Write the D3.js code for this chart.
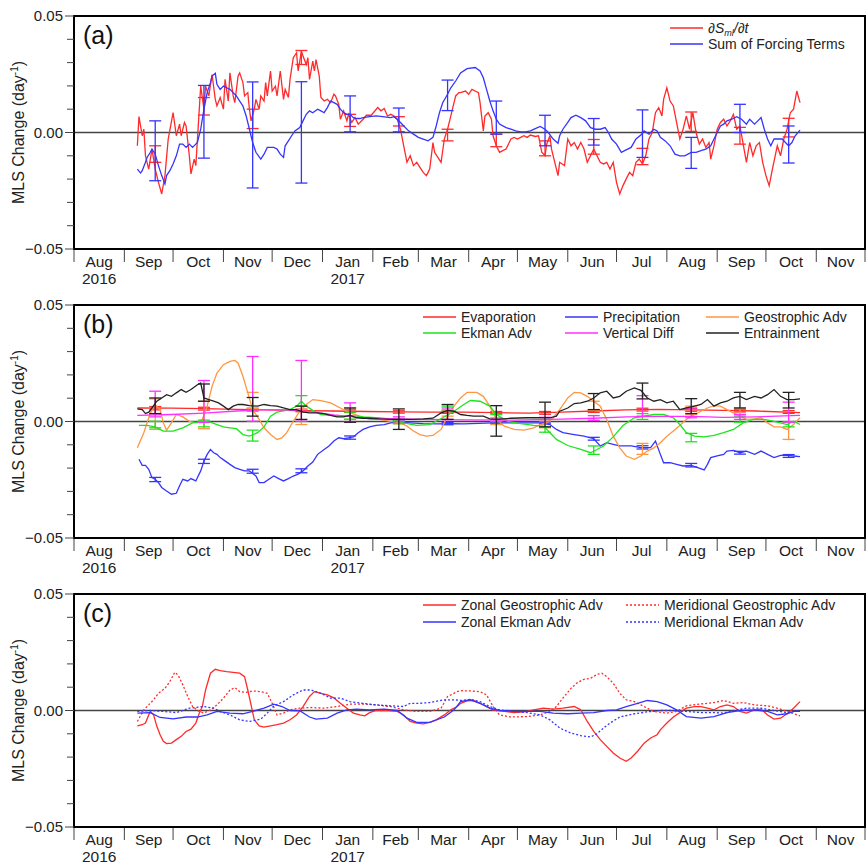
<!DOCTYPE html>
<html>
<head>
<meta charset="utf-8">
<script src="https://cdn.jsdelivr.net/npm/d3@7"></script>
<style>
  body { margin: 0; background: #fff; }
  text { font-family: "Liberation Sans", Arial, sans-serif; }
</style>
</head>
<body>
<svg id="fig" width="866" height="863"></svg>
<script>
// x values are days since 1 Aug 2016, y values are MLS change in day^-1
const day0 = new Date(2016, 7, 1);

// ---- panel (a)
const dSdt = [
  [39,-0.0057],[40,0.0068],[42,-0.0014],[43,0.0014],[44,-0.0100],[46,-0.0157],[48,-0.0071],[50,-0.0157],
  [52,-0.0214],[54,-0.0264],[56,-0.0185],[58,-0.0028],[61,0.0085],[63,-0.0014],[65,0.0036],[66,-0.0014],
  [68,0.0043],[69,0.0028],[71,-0.0100],[72,-0.0178],[74,-0.0114],[75,-0.0142],[77,0.0085],[78,0.0199],
  [80,0.0100],[81,0.0199],[83,0.0157],[85,0.0249],[87,0.0142],[88,0.0114],[90,0.0150],[92,0.0100],
  [93,0.0228],[95,0.0135],[96,0.0256],[98,0.0157],[99,0.0128],[101,0.0242],[102,0.0256],[104,0.0214],
  [105,0.0157],[107,0.0171],[108,0.0100],[109,0.0050],[111,0.0100],[112,0.0142],[114,0.0100],[115,0.0157],
  [117,0.0135],[118,0.0214],[119,0.0157],[121,0.0264],[122,0.0178],[124,0.0199],[125,0.0157],[127,0.0264],
  [129,0.0142],[130,0.0185],[132,0.0150],[133,0.0228],[135,0.0321],[137,0.0342],[138,0.0264],[140,0.0349],
  [141,0.0328],[143,0.0292],[144,0.0321],[145,0.0228],[147,0.0306],[148,0.0264],[149,0.0313],[151,0.0242],
  [152,0.0150],[154,0.0135],[156,0.0142],[158,0.0128],[160,0.0164],[161,0.0157],[163,0.0121],[164,0.0057],
  [166,0.0093],[168,0.0050],[169,0.0078],[171,0.0043],[173,0.0064],[175,0.0036],[178,0.0057],[180,0.0074],
  [183,0.0074],[187,0.0107],[189,0.0093],[191,0.0103],[193,0.0071],[195,0.0078],[197,0.0071],[199,0.0057],
  [201,0.0014],[203,-0.0057],[205,-0.0128],[207,-0.0100],[209,-0.0142],[211,-0.0128],[213,-0.0150],[215,-0.0171],
  [217,-0.0185],[219,-0.0157],[221,-0.0043],[222,-0.0085],[226,-0.0128],[228,-0.0028],[230,0.0014],[232,0.0071],
  [235,0.0157],[237,0.0171],[238,0.0171],[241,0.0178],[243,0.0164],[245,0.0185],[247,0.0178],[249,0.0171],
  [250,0.0128],[252,0.0007],[253,0.0071],[255,0.0085],[257,0.0057],[258,-0.0014],[260,-0.0057],[262,-0.0085],
  [264,-0.0078],[266,-0.0071],[269,-0.0028],[271,-0.0021],[273,-0.0028],[275,-0.0021],[277,-0.0014],[279,-0.0021],
  [281,-0.0011],[284,-0.0017],[286,-0.0014],[288,-0.0085],[290,-0.0100],[291,-0.0050],[293,-0.0014],[294,-0.0071],
  [296,-0.0128],[298,-0.0185],[299,-0.0128],[302,-0.0142],[304,-0.0028],[306,-0.0057],[308,-0.0043],[310,-0.0071],
  [312,-0.0043],[314,-0.0071],[316,-0.0128],[318,-0.0100],[320,-0.0071],[322,-0.0100],[324,-0.0128],[326,-0.0135],
  [328,-0.0128],[330,-0.0157],[332,-0.0128],[334,-0.0214],[336,-0.0264],[338,-0.0228],[340,-0.0199],[342,-0.0171],
  [344,-0.0185],[346,-0.0128],[348,-0.0114],[350,-0.0135],[352,-0.0100],[354,-0.0028],[356,0.0000],[358,0.0085],
  [360,0.0107],[362,0.0071],[363,0.0142],[365,0.0192],[367,0.0135],[369,0.0114],[371,0.0043],[373,-0.0028],
  [375,0.0014],[377,0.0071],[379,0.0014],[381,0.0085],[383,0.0000],[385,-0.0050],[387,-0.0028],[389,-0.0064],
  [391,-0.0043],[392,-0.0114],[394,-0.0057],[396,0.0014],[398,0.0043],[400,0.0057],[402,0.0028],[404,0.0050],
  [406,0.0078],[408,0.0014],[410,0.0028],[412,-0.0050],[414,-0.0128],[416,-0.0043],[418,-0.0100],[420,-0.0057],
  [422,-0.0043],[424,-0.0128],[426,-0.0185],[428,-0.0228],[430,-0.0157],[433,-0.0057],[435,-0.0100],[437,-0.0028],
  [439,0.0014],[441,0.0085],[443,0.0100],[445,0.0178],[447,0.0128]
];
const forcingSum = [
  [39,-0.0157],[41,-0.0174],[42,-0.0164],[44,-0.0128],[45,-0.0107],[47,-0.0085],[48,-0.0071],[50,-0.0093],
  [52,-0.0142],[54,-0.0185],[56,-0.0221],[57,-0.0185],[59,-0.0164],[61,-0.0135],[63,-0.0100],[65,-0.0050],
  [67,-0.0050],[69,-0.0064],[71,-0.0050],[73,-0.0064],[76,-0.0043],[78,0.0014],[80,0.0100],[82,0.0171],
  [84,0.0214],[85,0.0242],[87,0.0254],[88,0.0207],[90,0.0185],[92,0.0199],[94,0.0192],[96,0.0185],
  [98,0.0171],[100,0.0157],[102,0.0135],[104,0.0114],[106,0.0071],[108,0.0014],[110,-0.0043],[112,-0.0085],
  [115,-0.0114],[117,-0.0093],[119,-0.0064],[121,-0.0064],[123,-0.0064],[125,-0.0071],[127,-0.0093],[129,-0.0107],
  [130,-0.0057],[132,-0.0036],[134,-0.0014],[136,0.0007],[139,0.0021],[141,0.0050],[143,0.0078],[145,0.0093],
  [147,0.0085],[150,0.0100],[152,0.0093],[154,0.0085],[156,0.0107],[158,0.0135],[160,0.0128],[162,0.0121],
  [164,0.0100],[166,0.0085],[168,0.0078],[170,0.0078],[172,0.0064],[174,0.0060],[176,0.0060],[178,0.0064],
  [182,0.0068],[186,0.0071],[190,0.0068],[195,0.0064],[197,0.0068],[199,0.0057],[201,0.0043],[203,0.0028],
  [206,0.0007],[209,-0.0007],[212,-0.0021],[215,-0.0028],[218,-0.0036],[221,-0.0021],[223,0.0028],[225,0.0085],
  [227,0.0128],[230,0.0164],[232,0.0192],[235,0.0221],[238,0.0256],[242,0.0274],[247,0.0279],[250,0.0264],
  [252,0.0235],[254,0.0185],[256,0.0135],[258,0.0093],[260,0.0057],[262,0.0036],[266,0.0021],[269,0.0014],
  [272,0.0007],[275,0.0003],[278,0.0003],[281,0.0007],[284,0.0017],[287,0.0026],[290,0.0014],[292,0.0000],
  [295,-0.0028],[298,-0.0046],[299,-0.0014],[301,0.0014],[304,0.0043],[306,0.0064],[309,0.0074],[312,0.0064],
  [315,0.0050],[318,0.0021],[321,0.0014],[324,0.0014],[327,0.0021],[329,0.0000],[331,-0.0028],[334,-0.0050],
  [337,-0.0085],[339,-0.0078],[343,-0.0064],[346,-0.0028],[349,-0.0011],[351,0.0007],[354,-0.0007],[357,0.0014],
  [359,0.0007],[361,-0.0021],[364,-0.0036],[367,-0.0057],[370,-0.0093],[373,-0.0100],[376,-0.0100],[380,-0.0085],
  [383,-0.0085],[386,-0.0078],[389,-0.0071],[392,-0.0057],[395,-0.0014],[398,0.0028],[400,0.0036],[402,0.0050],
  [405,0.0057],[408,0.0068],[411,0.0057],[414,0.0036],[416,0.0057],[419,0.0036],[421,0.0050],[423,0.0064],
  [425,0.0014],[427,-0.0028],[429,-0.0057],[431,-0.0028],[434,-0.0028],[436,-0.0028],[438,-0.0043],[440,-0.0057],
  [442,-0.0043],[444,-0.0014],[447,0.0010]
];
// error bars: [day, low, high]
const dSdtErr = [
  [50,-0.0128,-0.0057],[80,0.0075,0.0150],[110,0.0017,0.0100],[140,0.0292,0.0352],[170,0.0026,0.0078],
  [200,0.0028,0.0068],[230,-0.0036,0.0014],[260,-0.0061,-0.0007],[290,-0.0100,-0.0036],[320,-0.0093,-0.0030],
  [350,-0.0138,-0.0068],[380,0.0005,0.0088],[410,-0.0050,0.0022],[440,-0.0019,0.0061]
];
const forcingErr = [
  [50,-0.0207,0.0050],[80,-0.0110,0.0202],[110,-0.0238,0.0217],[140,-0.0217,0.0218],[170,0.0003,0.0157],
  [200,0.0003,0.0105],[230,0.0094,0.0225],[260,-0.0007,0.0135],[290,-0.0057,0.0074],[320,-0.0054,0.0060],
  [350,-0.0107,0.0097],[380,-0.0154,-0.0021],[410,0.0000,0.0121],[440,-0.0131,0.0028]
];

// ---- panel (b)
const evaporation = [
  [39,0.0058],[60,0.0057],[80,0.0055],[100,0.0052],[120,0.0050],[140,0.0047],[160,0.0045],[180,0.0043],
  [200,0.0041],[220,0.0040],[240,0.0040],[260,0.0038],[280,0.0036],[300,0.0040],[320,0.0045],[340,0.0050],
  [360,0.0052],[380,0.0050],[400,0.0048],[420,0.0045],[447,0.0038]
];
const precipitation = [
  [40,-0.0162],[42,-0.0188],[44,-0.0188],[46,-0.0205],[48,-0.0241],[50,-0.0248],[52,-0.0262],[54,-0.0283],
  [57,-0.0298],[60,-0.0312],[63,-0.0308],[65,-0.0276],[67,-0.0248],[70,-0.0255],[72,-0.0245],[75,-0.0255],
  [78,-0.0212],[80,-0.0171],[82,-0.0141],[84,-0.0120],[86,-0.0134],[88,-0.0141],[90,-0.0155],[93,-0.0169],
  [96,-0.0184],[99,-0.0198],[102,-0.0205],[105,-0.0212],[108,-0.0212],[112,-0.0234],[114,-0.0262],[117,-0.0262],
  [120,-0.0248],[123,-0.0234],[126,-0.0245],[129,-0.0255],[132,-0.0245],[135,-0.0234],[138,-0.0226],[141,-0.0212],
  [144,-0.0191],[147,-0.0174],[150,-0.0141],[154,-0.0120],[157,-0.0105],[160,-0.0084],[163,-0.0070],[166,-0.0074],
  [169,-0.0070],[172,-0.0066],[175,-0.0048],[178,-0.0034],[182,-0.0023],[186,-0.0017],[191,-0.0013],[195,-0.0006],
  [199,-0.0003],[207,-0.0006],[215,-0.0009],[223,-0.0010],[232,-0.0009],[240,-0.0010],[258,-0.0006],[279,-0.0006],
  [289,-0.0006],[293,-0.0013],[297,-0.0034],[301,-0.0048],[308,-0.0056],[314,-0.0063],[320,-0.0074],[324,-0.0105],
  [328,-0.0091],[332,-0.0098],[336,-0.0105],[343,-0.0105],[349,-0.0112],[355,-0.0112],[358,-0.0084],[361,-0.0141],
  [363,-0.0177],[367,-0.0177],[371,-0.0184],[375,-0.0191],[380,-0.0188],[384,-0.0198],[388,-0.0208],[390,-0.0184],
  [392,-0.0155],[396,-0.0148],[400,-0.0141],[402,-0.0127],[406,-0.0124],[410,-0.0134],[414,-0.0127],[419,-0.0141],
  [423,-0.0127],[427,-0.0141],[431,-0.0155],[435,-0.0145],[439,-0.0145],[443,-0.0148],[447,-0.0151]
];
const geostrophicAdv = [
  [39,-0.0113],[43,-0.0048],[47,0.0037],[50,0.0073],[53,0.0051],[55,-0.0006],[57,-0.0037],[60,-0.0006],
  [63,0.0030],[67,0.0020],[71,0.0001],[76,-0.0006],[79,0.0009],[82,0.0066],[85,0.0151],[88,0.0208],
  [92,0.0244],[96,0.0258],[99,0.0262],[101,0.0251],[104,0.0194],[107,0.0123],[110,0.0051],[114,0.0009],
  [117,-0.0027],[121,-0.0056],[125,-0.0077],[128,-0.0070],[131,-0.0048],[135,0.0001],[139,0.0044],[143,0.0073],
  [147,0.0094],[152,0.0090],[158,0.0080],[164,0.0058],[170,0.0037],[176,0.0023],[182,0.0009],[188,0.0009],
  [195,0.0001],[201,-0.0006],[205,-0.0020],[209,-0.0041],[213,-0.0056],[217,-0.0063],[221,-0.0060],[226,-0.0034],
  [230,0.0023],[234,0.0066],[238,0.0101],[242,0.0125],[248,0.0125],[252,0.0108],[256,0.0066],[260,0.0009],
  [265,-0.0020],[271,-0.0034],[277,-0.0037],[283,-0.0027],[287,-0.0013],[291,-0.0006],[295,0.0016],[299,0.0051],
  [304,0.0101],[308,0.0125],[312,0.0123],[316,0.0108],[320,0.0087],[324,0.0066],[328,0.0009],[332,-0.0063],
  [336,-0.0113],[340,-0.0148],[345,-0.0162],[349,-0.0148],[353,-0.0127],[357,-0.0113],[361,-0.0091],[365,-0.0063],
  [369,-0.0041],[373,-0.0017],[377,0.0009],[382,0.0030],[386,0.0044],[390,0.0058],[394,0.0068],[398,0.0066],
  [402,0.0051],[406,0.0037],[410,0.0023],[414,0.0009],[419,0.0011],[423,0.0016],[427,-0.0006],[431,-0.0023],
  [435,-0.0023],[439,-0.0034],[443,-0.0013],[447,0.0016]
];
const ekmanAdv = [
  [40,-0.0017],[45,-0.0017],[50,-0.0023],[55,-0.0041],[61,-0.0041],[67,-0.0027],[73,-0.0006],[80,0.0001],
  [84,-0.0003],[88,-0.0013],[92,-0.0023],[96,-0.0027],[100,-0.0031],[104,-0.0056],[108,-0.0063],[113,-0.0048],
  [117,-0.0023],[121,0.0023],[125,0.0040],[129,0.0046],[133,0.0051],[137,0.0066],[140,0.0087],[143,0.0066],
  [147,0.0048],[152,0.0030],[158,0.0026],[164,0.0023],[170,0.0026],[178,0.0020],[186,0.0016],[195,0.0009],
  [203,-0.0006],[211,-0.0017],[219,-0.0013],[227,0.0016],[234,0.0044],[240,0.0073],[244,0.0090],[250,0.0087],
  [256,0.0066],[260,0.0030],[267,0.0001],[275,-0.0009],[283,-0.0017],[289,-0.0020],[292,-0.0041],[297,-0.0077],
  [304,-0.0103],[312,-0.0120],[318,-0.0134],[322,-0.0120],[326,-0.0105],[332,-0.0066],[338,-0.0017],[345,0.0016],
  [351,0.0023],[357,0.0030],[363,0.0030],[369,0.0016],[373,-0.0013],[377,-0.0048],[382,-0.0063],[388,-0.0066],
  [394,-0.0060],[400,-0.0048],[406,-0.0034],[412,-0.0006],[418,0.0009],[425,0.0009],[431,0.0001],[435,-0.0006],
  [439,-0.0013],[443,0.0001],[447,-0.0013]
];
const verticalDiff = [
  [39,0.0026],[60,0.0030],[80,0.0036],[100,0.0045],[115,0.0050],[130,0.0050],[145,0.0042],[160,0.0028],
  [175,0.0018],[195,0.0012],[215,0.0009],[240,0.0007],[270,0.0006],[300,0.0010],[320,0.0014],[340,0.0020],
  [360,0.0022],[380,0.0022],[400,0.0018],[420,0.0020],[447,0.0026]
];
const entrainment = [
  [39,0.0054],[42,0.0051],[44,0.0034],[46,0.0040],[48,0.0058],[51,0.0087],[54,0.0101],[57,0.0115],
  [60,0.0108],[63,0.0123],[66,0.0137],[69,0.0125],[72,0.0137],[76,0.0158],[78,0.0165],[80,0.0101],
  [83,0.0094],[86,0.0087],[89,0.0080],[92,0.0066],[95,0.0051],[98,0.0066],[101,0.0073],[104,0.0073],
  [108,0.0068],[113,0.0066],[117,0.0073],[121,0.0068],[125,0.0066],[129,0.0058],[133,0.0051],[137,0.0051],
  [141,0.0040],[145,0.0037],[150,0.0037],[154,0.0034],[158,0.0026],[162,0.0020],[166,0.0020],[170,0.0026],
  [174,0.0016],[178,0.0014],[182,0.0014],[188,0.0011],[195,0.0009],[203,0.0009],[209,0.0009],[215,0.0011],
  [221,0.0014],[226,0.0037],[230,0.0048],[234,0.0044],[238,0.0030],[242,0.0026],[246,0.0023],[252,0.0023],
  [256,0.0011],[260,0.0009],[269,0.0014],[279,0.0016],[287,0.0016],[293,0.0016],[297,0.0023],[299,0.0044],
  [304,0.0058],[308,0.0077],[312,0.0080],[316,0.0087],[320,0.0101],[324,0.0123],[328,0.0130],[332,0.0101],
  [336,0.0108],[340,0.0130],[345,0.0144],[349,0.0134],[353,0.0101],[357,0.0087],[361,0.0094],[365,0.0080],
  [369,0.0087],[373,0.0051],[377,0.0058],[382,0.0066],[386,0.0073],[390,0.0094],[394,0.0066],[398,0.0080],
  [402,0.0087],[406,0.0101],[410,0.0108],[414,0.0094],[419,0.0108],[423,0.0101],[427,0.0115],[431,0.0137],
  [435,0.0108],[439,0.0094],[443,0.0094],[447,0.0097]
];
const evaporationErr = [
  [50,0.0050,0.0064],[80,0.0049,0.0061],[110,0.0045,0.0057],[140,0.0042,0.0053],[170,0.0039,0.0050],
  [200,0.0036,0.0046],[230,0.0035,0.0045],[260,0.0033,0.0043],[290,0.0031,0.0043],[320,0.0039,0.0051],
  [350,0.0045,0.0057],[380,0.0044,0.0056],[410,0.0041,0.0053],[440,0.0035,0.0047]
];
const precipitationErr = [
  [50,-0.0258,-0.0240],[80,-0.0180,-0.0162],[110,-0.0222,-0.0205],[140,-0.0220,-0.0203],[170,-0.0076,-0.0062],
  [200,-0.0008,0.0002],[230,-0.0014,-0.0004],[260,-0.0010,-0.0002],[290,-0.0010,-0.0002],[320,-0.0080,-0.0068],
  [350,-0.0118,-0.0104],[380,-0.0195,-0.0180],[410,-0.0140,-0.0128],[440,-0.0154,-0.0142]
];
const geostrophicErr = [
  [50,-0.0034,0.0097],[80,-0.0031,0.0087],[110,0.0055,0.0125],[140,-0.0013,0.0051],[170,0.0009,0.0058],
  [200,-0.0010,0.0008],[230,0.0023,0.0051],[260,-0.0013,0.0009],[290,-0.0027,0.0001],[320,0.0048,0.0087],
  [350,-0.0141,-0.0094],[380,0.0030,0.0066],[410,0.0030,0.0058],[440,-0.0077,-0.0003]
];
const ekmanErr = [
  [50,-0.0027,0.0001],[80,-0.0023,0.0006],[110,-0.0084,-0.0037],[140,0.0066,0.0111],[170,0.0010,0.0040],
  [200,-0.0009,0.0011],[230,0.0044,0.0066],[260,0.0000,0.0030],[290,-0.0046,-0.0023],[320,-0.0141,-0.0105],
  [350,0.0009,0.0034],[380,-0.0087,-0.0051],[410,-0.0003,0.0023],[440,-0.0023,-0.0003]
];
const verticalErr = [
  [50,0.0020,0.0130],[80,-0.0004,0.0176],[110,0.0001,0.0279],[140,0.0001,0.0262],[170,-0.0003,0.0080],
  [200,0.0000,0.0020],[230,0.0009,0.0058],[260,0.0000,0.0015],[290,0.0000,0.0018],[320,0.0005,0.0025],
  [350,0.0023,0.0111],[380,0.0016,0.0058],[410,0.0009,0.0030],[440,-0.0003,0.0083]
];
const entrainmentErr = [
  [50,0.0034,0.0101],[80,0.0087,0.0161],[110,0.0023,0.0103],[140,0.0009,0.0066],[170,-0.0003,0.0058],
  [200,-0.0034,0.0054],[230,0.0009,0.0073],[260,-0.0063,0.0068],[290,-0.0023,0.0083],[320,0.0051,0.0120],
  [350,0.0097,0.0165],[380,0.0034,0.0098],[410,0.0058,0.0125],[440,0.0058,0.0125]
];

// ---- panel (c)
const zonalGeo = [
  [39,-0.0066],[42,-0.0061],[44,-0.0054],[46,-0.0019],[47,-0.0004],[49,-0.0019],[51,-0.0068],[53,-0.0104],
  [55,-0.0132],[57,-0.0142],[60,-0.0140],[63,-0.0125],[66,-0.0111],[69,-0.0090],[72,-0.0080],[75,-0.0054],
  [77,-0.0014],[79,0.0017],[81,0.0088],[84,0.0160],[87,0.0177],[90,0.0171],[94,0.0167],[98,0.0164],
  [102,0.0160],[105,0.0145],[107,0.0088],[109,0.0024],[111,-0.0040],[114,-0.0066],[117,-0.0071],[121,-0.0066],
  [125,-0.0061],[129,-0.0054],[133,-0.0040],[137,-0.0019],[141,0.0017],[145,0.0060],[148,0.0081],[152,0.0074],
  [156,0.0067],[160,0.0054],[164,0.0031],[168,0.0010],[172,-0.0011],[176,-0.0019],[179,-0.0023],[182,-0.0009],
  [186,0.0000],[193,0.0000],[199,-0.0004],[203,-0.0019],[207,-0.0047],[211,-0.0054],[215,-0.0057],[219,-0.0051],
  [223,-0.0040],[228,-0.0019],[232,0.0003],[236,0.0017],[238,0.0031],[242,0.0041],[246,0.0043],[252,0.0024],
  [258,0.0003],[265,-0.0004],[271,-0.0009],[277,-0.0006],[283,0.0003],[289,0.0010],[295,0.0006],[301,0.0010],
  [308,0.0017],[312,0.0003],[316,-0.0047],[320,-0.0090],[324,-0.0125],[328,-0.0154],[332,-0.0182],[336,-0.0204],
  [340,-0.0218],[343,-0.0204],[347,-0.0175],[351,-0.0140],[355,-0.0118],[359,-0.0104],[361,-0.0083],[365,-0.0054],
  [369,-0.0028],[373,-0.0009],[377,0.0010],[382,0.0017],[386,0.0017],[390,0.0010],[394,0.0003],[398,0.0017],
  [402,0.0024],[406,0.0017],[410,-0.0004],[414,-0.0011],[419,0.0003],[423,0.0006],[427,-0.0019],[431,-0.0037],
  [435,-0.0033],[439,-0.0014],[443,0.0010],[447,0.0038]
];
const meridGeo = [
  [39,-0.0047],[43,0.0003],[46,0.0024],[49,0.0046],[52,0.0074],[56,0.0095],[59,0.0124],[62,0.0164],
  [64,0.0153],[67,0.0110],[70,0.0060],[73,0.0017],[77,-0.0004],[80,-0.0011],[84,0.0003],[88,0.0024],
  [92,0.0053],[96,0.0088],[99,0.0098],[102,0.0081],[106,0.0078],[110,0.0084],[115,0.0081],[119,0.0074],
  [122,0.0031],[125,-0.0019],[129,-0.0011],[133,0.0003],[139,0.0010],[145,0.0013],[154,0.0010],[162,0.0017],
  [170,0.0027],[178,0.0028],[186,0.0024],[195,0.0017],[203,0.0003],[211,-0.0004],[219,-0.0004],[226,0.0010],
  [230,0.0060],[236,0.0081],[238,0.0085],[244,0.0084],[250,0.0081],[254,0.0067],[258,0.0017],[262,-0.0019],
  [269,-0.0028],[279,-0.0026],[287,-0.0019],[293,-0.0004],[297,0.0017],[301,0.0053],[306,0.0095],[310,0.0120],
  [314,0.0134],[318,0.0138],[322,0.0155],[325,0.0160],[328,0.0145],[332,0.0117],[336,0.0074],[340,0.0046],
  [345,0.0038],[351,0.0017],[357,-0.0004],[365,-0.0011],[371,-0.0004],[377,0.0020],[386,0.0028],[394,0.0034],
  [400,0.0043],[406,0.0031],[412,0.0034],[419,0.0024],[427,0.0020],[435,0.0006],[441,-0.0009],[447,-0.0023]
];
const zonalEkman = [
  [39,-0.0011],[47,-0.0009],[53,-0.0030],[61,-0.0036],[69,-0.0028],[76,-0.0028],[82,-0.0019],[88,-0.0004],
  [96,-0.0011],[104,-0.0014],[110,-0.0004],[117,0.0010],[123,0.0027],[128,0.0017],[133,0.0000],[139,-0.0001],
  [145,-0.0028],[149,-0.0037],[156,-0.0033],[162,-0.0011],[168,0.0003],[174,0.0006],[182,0.0003],[191,0.0006],
  [199,0.0000],[205,-0.0033],[211,-0.0051],[219,-0.0051],[228,-0.0028],[234,0.0003],[238,0.0038],[244,0.0046],
  [250,0.0031],[256,0.0010],[262,0.0000],[271,-0.0004],[279,-0.0004],[287,-0.0004],[295,-0.0011],[304,-0.0014],
  [312,-0.0011],[320,-0.0009],[328,0.0000],[334,0.0003],[340,0.0017],[347,0.0031],[353,0.0043],[359,0.0038],
  [365,0.0024],[371,0.0003],[377,-0.0026],[386,-0.0033],[394,-0.0026],[402,-0.0009],[410,0.0000],[419,0.0003],
  [427,-0.0004],[433,-0.0019],[439,-0.0014],[443,-0.0004],[447,-0.0004]
];
const meridEkman = [
  [39,-0.0004],[47,0.0000],[55,-0.0004],[63,-0.0009],[71,0.0010],[80,0.0017],[86,0.0010],[90,-0.0004],
  [96,-0.0019],[102,-0.0040],[108,-0.0047],[115,-0.0037],[119,-0.0011],[123,0.0020],[129,0.0038],[135,0.0067],
  [141,0.0088],[146,0.0088],[152,0.0074],[158,0.0053],[164,0.0053],[170,0.0038],[178,0.0031],[186,0.0024],
  [195,0.0020],[203,0.0017],[207,0.0031],[213,0.0031],[219,0.0034],[228,0.0046],[234,0.0046],[238,0.0043],
  [244,0.0048],[250,0.0038],[256,0.0017],[262,0.0003],[271,-0.0004],[279,-0.0009],[287,-0.0019],[293,-0.0040],
  [299,-0.0075],[306,-0.0097],[312,-0.0108],[318,-0.0114],[322,-0.0100],[326,-0.0075],[330,-0.0054],[336,-0.0028],
  [345,-0.0014],[353,-0.0006],[361,0.0000],[369,0.0000],[377,-0.0004],[386,-0.0009],[394,-0.0009],[400,-0.0011],
  [406,0.0000],[414,0.0010],[423,0.0010],[431,0.0000],[439,-0.0009],[447,0.0000]
];

const monthLabels = ["Aug","Sep","Oct","Nov","Dec","Jan","Feb","Mar","Apr","May","Jun","Jul","Aug","Sep","Oct","Nov"];
const yearLabels = {0: "2016", 5: "2017"};
const yTickLabels = [0.05, 0, -0.05];

const RED = "#ff2a2a", BLUE = "#3535ff", GREEN = "#1ee41e",
      ORANGE = "#ff9640", MAGENTA = "#ff30ff", BLACK = "#222";

const svg = d3.select("#fig");
const left = 74, right = 865, panelH = 233;
const toDate = (d) => d3.timeDay.offset(day0, d);

const x = d3.scaleTime()
  .domain([new Date(2016, 7, 1), new Date(2017, 11, 1)])
  .range([left, right]);

function drawPanel(top, letter, series, legend) {
  const y = d3.scaleLinear().domain([-0.05, 0.05]).range([top + panelH, top]);
  const g = svg.append("g");

  // zero line
  g.append("line")
    .attr("x1", left).attr("x2", right)
    .attr("y1", y(0)).attr("y2", y(0))
    .attr("stroke", "#444").attr("stroke-width", 1.3);

  const line = d3.line().x((d) => x(toDate(d[0]))).y((d) => y(d[1]));

  series.forEach((s) => {
    g.append("path")
      .datum(s.data)
      .attr("fill", "none")
      .attr("stroke", s.color)
      .attr("stroke-width", 1.3)
      .attr("stroke-dasharray", s.dash || null)
      .attr("d", line);
    if (s.err) {
      const eg = g.append("g").attr("stroke", s.color).attr("stroke-width", 1.3);
      s.err.forEach((e) => {
        const cx = x(toDate(e[0]));
        eg.append("line").attr("x1", cx).attr("x2", cx).attr("y1", y(e[1])).attr("y2", y(e[2]));
        [e[1], e[2]].forEach((v) => {
          eg.append("line").attr("x1", cx - 6).attr("x2", cx + 6).attr("y1", y(v)).attr("y2", y(v));
        });
      });
    }
  });

  // frame
  g.append("rect")
    .attr("x", left).attr("y", top)
    .attr("width", right - left).attr("height", panelH)
    .attr("fill", "none").attr("stroke", "#000").attr("stroke-width", 2);

  // y axis ticks
  d3.range(-5, 6).forEach((i) => {
    const v = i / 100;
    const major = i % 5 === 0;
    g.append("line")
      .attr("x1", left - (major ? 9 : 7)).attr("x2", left)
      .attr("y1", y(v)).attr("y2", y(v))
      .attr("stroke", "#444").attr("stroke-width", 1);
  });
  yTickLabels.forEach((v) => {
    g.append("text")
      .attr("x", left - 11).attr("y", y(v) + 5)
      .attr("text-anchor", "end")
      .style("font-size", "15px")
      .style("fill", "#222")
      .text(d3.format(".2f")(v));
  });

  // y label
  const yl = g.append("text")
    .attr("transform", `translate(24,${top + panelH / 2}) rotate(-90)`)
    .attr("text-anchor", "middle")
    .style("font-size", "16px")
    .style("fill", "#222");
  yl.append("tspan").text("MLS Change (day");
  yl.append("tspan").attr("dy", -6).style("font-size", "10px").text("-1");
  yl.append("tspan").attr("dy", 6).text(")");

  // x axis: month boundaries and centred labels
  const months = d3.timeMonth.range(new Date(2016, 7, 1), new Date(2017, 11, 2));
  months.forEach((m) => {
    g.append("line")
      .attr("x1", x(m)).attr("x2", x(m))
      .attr("y1", top + panelH + 1).attr("y2", top + panelH + 13)
      .attr("stroke", "#444").attr("stroke-width", 1);
  });
  monthLabels.forEach((lab, i) => {
    const m0 = months[i], m1 = months[i + 1];
    const cx = (x(m0) + x(m1)) / 2;
    g.append("text")
      .attr("x", cx).attr("y", top + panelH + 18)
      .attr("text-anchor", "middle")
      .style("font-size", "15.5px").style("fill", "#222")
      .text(lab);
    if (yearLabels[i]) {
      g.append("text")
        .attr("x", cx).attr("y", top + panelH + 35)
        .attr("text-anchor", "middle")
        .style("font-size", "15.5px").style("fill", "#222")
        .text(yearLabels[i]);
    }
  });

  // panel letter
  g.append("text")
    .attr("x", 83).attr("y", top + 28)
    .style("font-size", "25px").style("fill", "#111")
    .text(letter);

  // legend
  legend.forEach((it) => {
    const ly = top + it.dy;
    g.append("line")
      .attr("x1", it.x).attr("x2", it.x + 33)
      .attr("y1", ly).attr("y2", ly)
      .attr("stroke", it.color).attr("stroke-width", 1.3)
      .attr("stroke-dasharray", it.dash || null);
    const t = g.append("text")
      .attr("x", it.x + 38).attr("y", ly + 5)
      .style("font-size", "14px").style("fill", "#222");
    if (it.rich) it.rich(t); else t.text(it.label);
  });
}

drawPanel(16, "(a)", [
  { data: dSdt, color: RED, err: dSdtErr },
  { data: forcingSum, color: BLUE, err: forcingErr },
], [
  { x: 670, dy: 12, color: RED, rich: (t) => {
      t.style("font-style", "italic");
      t.append("tspan").text("∂S");
      t.append("tspan").attr("dy", 3).style("font-size", "9px").text("ml");
      t.append("tspan").attr("dy", -3).text("/∂t");
    } },
  { x: 670, dy: 28, color: BLUE, label: "Sum of Forcing Terms" },
]);

drawPanel(305, "(b)", [
  { data: evaporation, color: RED, err: evaporationErr },
  { data: precipitation, color: BLUE, err: precipitationErr },
  { data: geostrophicAdv, color: ORANGE, err: geostrophicErr },
  { data: ekmanAdv, color: GREEN, err: ekmanErr },
  { data: verticalDiff, color: MAGENTA, err: verticalErr },
  { data: entrainment, color: BLACK, err: entrainmentErr },
], [
  { x: 423, dy: 12, color: RED, label: "Evaporation" },
  { x: 565, dy: 12, color: BLUE, label: "Precipitation" },
  { x: 706, dy: 12, color: ORANGE, label: "Geostrophic Adv" },
  { x: 423, dy: 28, color: GREEN, label: "Ekman Adv" },
  { x: 565, dy: 28, color: MAGENTA, label: "Vertical Diff" },
  { x: 706, dy: 28, color: BLACK, label: "Entrainment" },
]);

drawPanel(594, "(c)", [
  { data: zonalGeo, color: RED },
  { data: meridGeo, color: RED, dash: "2,2" },
  { data: zonalEkman, color: BLUE },
  { data: meridEkman, color: BLUE, dash: "2,2" },
], [
  { x: 423, dy: 11, color: RED, label: "Zonal Geostrophic Adv" },
  { x: 626, dy: 11, color: RED, dash: "2,2", label: "Meridional Geostrophic Adv" },
  { x: 423, dy: 28, color: BLUE, label: "Zonal Ekman Adv" },
  { x: 626, dy: 28, color: BLUE, dash: "2,2", label: "Meridional Ekman Adv" },
]);
</script>
</body>
</html>
